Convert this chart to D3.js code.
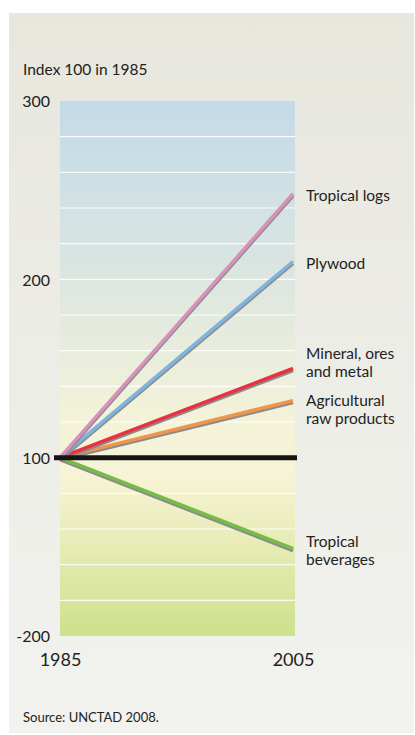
<!DOCTYPE html>
<html>
<head>
<meta charset="utf-8">
<script src="https://cdn.jsdelivr.net/npm/d3@7"></script>
<style>
  html, body { margin: 0; padding: 0; background: #ffffff; }
  svg { display: block; }
  text { font-family: Lato, "Open Sans", sans-serif; fill: #222222; }
</style>
</head>
<body>
<svg id="chart" width="415" height="735"></svg>
<script>
// Commodity price indices, 1985 = 100
const years = [1985, 2005];
const seriesNames = ["Tropical logs", "Plywood", "Mineral, ores and metal", "Agricultural raw products", "Tropical beverages"];
const seriesLabelLines = [["Tropical logs"], ["Plywood"], ["Mineral, ores", "and metal"], ["Agricultural", "raw products"], ["Tropical", "beverages"]];
const values1985 = [100, 100, 100, 100, 100];
const values2005 = [248, 210, 150, 132, 49];
const seriesColors = ["#d891bb", "#80b4de", "#e8323f", "#f0954c", "#74be46"];
const yTickValues = [300, 200, 100, 0];
const yTickLabels = ["300", "200", "100", "-200"];
const gridStep = 20;
const baseline = 100;

const FONT = "Lato, 'Open Sans', sans-serif";
const svg = d3.select("#chart");
const plot = { left: 60, right: 295, top: 101, bottom: 636 };

const x = d3.scaleLinear().domain(d3.extent(years)).range([plot.left, plot.right - 2]);
const y = d3.scaleLinear().domain([0, 300]).range([plot.bottom, plot.top]);

const defs = svg.append("defs");
const panelGrad = defs.append("linearGradient").attr("id", "panel").attr("x1", 0).attr("y1", 0).attr("x2", 0).attr("y2", 1);
panelGrad.append("stop").attr("offset", 0).attr("stop-color", "#e7e7de");
panelGrad.append("stop").attr("offset", 1).attr("stop-color", "#f2f3ef");

const plotGrad = defs.append("linearGradient").attr("id", "plotbg").attr("x1", 0).attr("y1", 0).attr("x2", 0).attr("y2", 1);
[[0, "#c3dae8"], [0.33, "#dce6e0"], [0.6, "#f4f3d8"], [0.7, "#f7f4d6"], [0.85, "#e4eab0"], [1, "#cde18c"]]
  .forEach(([o, c]) => plotGrad.append("stop").attr("offset", o).attr("stop-color", c));

// Panel
svg.append("rect").attr("x", 9).attr("y", 13).attr("width", 405).attr("height", 720).attr("fill", "url(#panel)");

// Plot background
svg.append("rect")
  .attr("x", plot.left).attr("y", y(300))
  .attr("width", plot.right - plot.left).attr("height", y(0) - y(300))
  .attr("fill", "url(#plotbg)");

// Grid lines
const grid = d3.range(gridStep, 300, gridStep).filter(v => v !== baseline);
svg.append("g").selectAll("line").data(grid).join("line")
  .attr("x1", plot.left).attr("x2", plot.right)
  .attr("y1", d => y(d)).attr("y2", d => y(d))
  .attr("stroke", "#ffffff").attr("stroke-width", 1.2).attr("opacity", 0.9);

// Title
svg.append("text").attr("x", 23).attr("y", 75).attr("font-size", 15.5).text("Index 100 in 1985");

// Y axis labels
const yAxis = d3.axisLeft(y).tickValues(yTickValues).tickSize(0).tickPadding(0)
  .tickFormat((d, i) => yTickLabels[i]);
const yg = svg.append("g").attr("transform", `translate(50,0)`).call(yAxis);
yg.select(".domain").remove();
yg.selectAll("text").attr("font-size", 16).attr("font-family", FONT).attr("fill", "#222222").attr("dy", "0.36em");

// X axis labels
const xAxis = d3.axisBottom(x).tickValues(years).tickSize(0).tickPadding(0).tickFormat(d3.format("d"));
const xg = svg.append("g").attr("transform", `translate(0,653)`).call(xAxis);
xg.select(".domain").remove();
xg.selectAll("text").attr("font-size", 18).attr("font-family", FONT).attr("fill", "#222222");

// Series lines with drop shadows
const line = d3.line().x(d => x(d[0])).y(d => y(d[1]));
const series = seriesNames.map((name, i) => ({
  name, color: seriesColors[i], lines: seriesLabelLines[i],
  pts: [[years[0], values1985[i]], [years[1], values2005[i]]]
}));

const order = [4, 3, 2, 1, 0];
const sg = svg.append("g");
order.forEach(i => {
  const s = series[i];
  sg.append("path").attr("d", line(s.pts)).attr("transform", "translate(0,2)")
    .attr("fill", "none").attr("stroke", "#8b8b8e").attr("stroke-width", 3.5);
  sg.append("path").attr("d", line(s.pts))
    .attr("fill", "none").attr("stroke", s.color).attr("stroke-width", 3.5);
});

// Baseline at 100
svg.append("line")
  .attr("x1", plot.left - 6).attr("x2", plot.right + 2)
  .attr("y1", y(baseline)).attr("y2", y(baseline))
  .attr("stroke", "#151515").attr("stroke-width", 5);

// Series labels: centred on line ends, then spread apart so blocks don't collide
const lh = 18, pad = 14;
const blocks = series.map(s => {
  const n = s.lines.length;
  return { s, n, c: y(s.pts[1][1]) + 2, h: (n - 1) * lh + 15 };
}).sort((a, b) => a.c - b.c);
for (let iter = 0; iter < 50; iter++) {
  for (let k = 1; k < blocks.length; k++) {
    const a = blocks[k - 1], b = blocks[k];
    const need = (a.h + b.h) / 2 + pad - (b.c - a.c);
    if (need > 0) { a.c -= need / 2; b.c += need / 2; }
  }
}
const lg = svg.append("g");
blocks.forEach(bk => {
  bk.s.lines.forEach((ln, j) => {
    lg.append("text").attr("x", 306).attr("font-size", 15.5)
      .attr("y", bk.c + 5 + (j - (bk.n - 1) / 2) * lh)
      .text(ln);
  });
});

// Source
svg.append("text").attr("x", 23).attr("y", 722).attr("font-size", 13).text("Source: UNCTAD 2008.");
</script>
</body>
</html>
